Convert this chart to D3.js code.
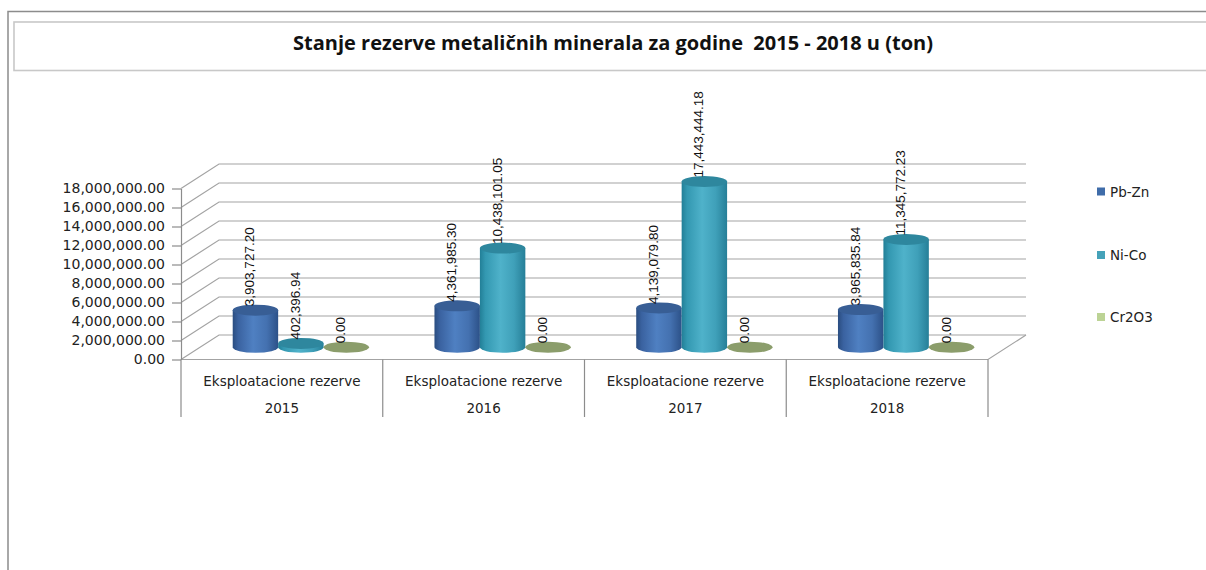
<!DOCTYPE html>
<html>
<head>
<meta charset="utf-8">
<script src="https://cdn.jsdelivr.net/npm/d3@7/dist/d3.min.js"></script>
<style>
  html, body { margin: 0; padding: 0; background: #ffffff; }
  svg { display: block; }
</style>
</head>
<body>
<svg id="chart" width="1206" height="570"></svg>
<script>
// ---- data ----
const titleText = "Stanje rezerve metaličnih minerala za godine  2015 - 2018 u (ton)";
const categories = ["2015", "2016", "2017", "2018"];
const groupLabel = "Eksploatacione rezerve";
const seriesNames = ["Pb-Zn", "Ni-Co", "Cr2O3"];
const pbZn = [3903727.20, 4361985.30, 4139079.80, 3965835.84];
const niCo = [402396.94, 10438101.05, 17443444.18, 11345772.23];
const cr2o3 = [0.00, 0.00, 0.00, 0.00];
const yTicks = [0, 2000000, 4000000, 6000000, 8000000, 10000000, 12000000, 14000000, 16000000, 18000000];

const seriesValues = [pbZn, niCo, cr2o3];

// ---- layout ----
const svg = d3.select("#chart");
const W = 1206, H = 570;
const frontLeft = 181, frontRight = 988;
const y0Front = 359.5, yTopFront = 188.5;
const depthX = 38, depthY = -24.5;

const x = d3.scaleBand().domain(categories).range([frontLeft, frontRight]).paddingInner(0).paddingOuter(0);
const xs = d3.scaleBand().domain(seriesNames).range([0, x.bandwidth()]).paddingInner(0).paddingOuter(0.72);
const y = d3.scaleLinear().domain([0, 18000000]).range([y0Front, yTopFront]);

const fmt = d3.format(",.2f");

const defs = svg.append("defs");
function hGrad(id, stops) {
  const g = defs.append("linearGradient").attr("id", id).attr("x1", "0%").attr("x2", "100%").attr("y1", "0%").attr("y2", "0%");
  stops.forEach(s => g.append("stop").attr("offset", s[0]).attr("stop-color", s[1]));
}
hGrad("gBlue", [["0%", "#2a4d80"], ["12%", "#3a62a0"], ["45%", "#4f80c2"], ["75%", "#4471b0"], ["100%", "#2c5188"]]);
hGrad("gTeal", [["0%", "#227f97"], ["12%", "#3398b1"], ["45%", "#4fb2ca"], ["75%", "#3fa0b9"], ["100%", "#267f98"]]);
hGrad("gGreen", [["0%", "#74864f"], ["50%", "#9aae72"], ["100%", "#74864f"]]);
const bodyFill = ["url(#gBlue)", "url(#gTeal)", "url(#gGreen)"];
const capFill = ["#385e95", "#2e879e", "#8b9d6b"];
const legendFill = ["#3f6ca9", "#45a2b9", "#bcd395"];

// ---- outer frame & title ----
svg.append("path").attr("d", `M8,${H} V11.5 H${W}`).attr("fill", "none").attr("stroke", "#8c8c8c").attr("stroke-width", 1.5);
svg.append("rect").attr("x", 14).attr("y", 22).attr("width", W).attr("height", 48.5)
  .attr("fill", "#fff").attr("stroke", "#c8c8c8").attr("stroke-width", 1.6);
svg.append("text").attr("x", 613).attr("y", 50).attr("text-anchor", "middle")
  .attr("xml:space", "preserve").style("white-space", "pre")
  .style("font-family", "'Open Sans', Lato, sans-serif").style("font-weight", "700").style("font-size", "20px")
  .attr("fill", "#111").text(titleText);

// ---- walls / gridlines ----
const grid = svg.append("g").attr("stroke", "#a3a3a3").attr("stroke-width", 1.2).attr("fill", "none");
yTicks.forEach(t => {
  const yf = y(t), yb = y(t) + depthY;
  grid.append("path").attr("d", `M${frontLeft},${yf} L${frontLeft + depthX},${yb} L${frontRight + depthX},${yb}`);
});
// floor edges
grid.append("path").attr("d", `M${frontLeft},${y0Front} L${frontRight},${y0Front} L${frontRight + depthX},${y0Front + depthY}`);

// ---- y axis ----
const yAxis = d3.axisLeft(y).tickValues(yTicks).tickFormat(fmt).tickSize(9).tickSizeOuter(0).tickPadding(7);
const gy = svg.append("g").attr("transform", `translate(${frontLeft},0)`).call(yAxis);
gy.select(".domain").attr("stroke", "#8c8c8c").attr("stroke-width", 1.2);
gy.selectAll(".tick line").attr("stroke", "#8c8c8c").attr("stroke-width", 1.2);
gy.selectAll(".tick text").style("font-family", "'DejaVu Sans', sans-serif").style("font-size", "14px").attr("fill", "#222");

// ---- category axis (table-like) ----
const catG = svg.append("g");
const bounds = categories.map(c => x(c)).concat([frontRight]);
catG.selectAll("line.sep").data(bounds).join("line")
  .attr("x1", d => d).attr("x2", d => d).attr("y1", y0Front).attr("y2", 417)
  .attr("stroke", "#8c8c8c").attr("stroke-width", 1.2);
catG.selectAll("text.grp").data(categories).join("text")
  .attr("x", d => x(d) + x.bandwidth() / 2).attr("y", 386).attr("text-anchor", "middle")
  .style("font-family", "'DejaVu Sans', sans-serif").style("font-size", "13.5px").attr("fill", "#222")
  .text(groupLabel);
catG.selectAll("text.yr").data(categories).join("text")
  .attr("x", d => x(d) + x.bandwidth() / 2).attr("y", 413).attr("text-anchor", "middle")
  .style("font-family", "'DejaVu Sans', sans-serif").style("font-size", "13.5px").attr("fill", "#222")
  .text(d => d);

// ---- cylinders ----
const rx = xs.bandwidth() / 2, ry = 5.5;
const midDX = depthX / 2, midDY = depthY / 2;
const bars = [];
categories.forEach((c, ci) => {
  seriesNames.forEach((s, si) => {
    const v = seriesValues[si][ci];
    const cx = x(c) + xs(s) + rx + midDX;
    const yb = y(0) + midDY;
    const yt = y(v) + midDY;
    bars.push({ c, s, si, v, cx, yb, yt });
  });
});
const barG = svg.append("g");
bars.forEach(b => {
  if (b.yb - b.yt > 0.5) {
    barG.append("path")
      .attr("d", `M${b.cx - rx},${b.yt} L${b.cx - rx},${b.yb} A${rx},${ry} 0 0 0 ${b.cx + rx},${b.yb} L${b.cx + rx},${b.yt} Z`)
      .attr("fill", bodyFill[b.si]);
  }
  barG.append("ellipse").attr("cx", b.cx).attr("cy", b.yt).attr("rx", rx).attr("ry", ry).attr("fill", capFill[b.si]);
});

// ---- value labels ----
const lblG = svg.append("g");
bars.forEach(b => {
  lblG.append("text")
    .attr("transform", `translate(${b.cx - 1},${b.yt - 4}) rotate(-90)`)
    .attr("text-anchor", "start")
    .style("font-family", "'Liberation Sans', Arial, sans-serif").style("font-size", "13.5px").attr("fill", "#111")
    .text(fmt(b.v));
});

// ---- legend ----
const legY = [191.5, 255, 317];
const leg = svg.append("g");
seriesNames.forEach((s, i) => {
  leg.append("rect").attr("x", 1097).attr("y", legY[i] - 4).attr("width", 8).attr("height", 8).attr("fill", legendFill[i]);
  leg.append("text").attr("x", 1110).attr("y", legY[i] + 5)
    .style("font-family", "'DejaVu Sans', sans-serif").style("font-size", "13.5px").attr("fill", "#222").text(s);
});
</script>
</body>
</html>
